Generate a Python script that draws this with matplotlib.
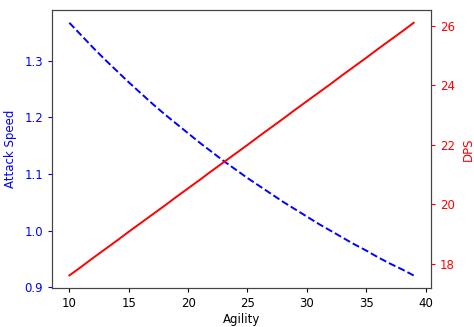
import matplotlib
matplotlib.use("Agg")
import matplotlib.pyplot as plt

# agility levels and the resulting stats
agility = list(range(10, 40))
attack_speed = [1.367, 1.345, 1.323, 1.302, 1.282, 1.262, 1.243, 1.224, 1.206, 1.189,
                1.172, 1.155, 1.139, 1.123, 1.108, 1.093, 1.079, 1.065, 1.051, 1.038,
                1.025, 1.012, 1.000, 0.988, 0.976, 0.965, 0.953, 0.942, 0.932, 0.921]
dps = [17.60, 17.89, 18.19, 18.48, 18.77, 19.07, 19.36, 19.65, 19.94, 20.24,
       20.53, 20.82, 21.12, 21.41, 21.70, 21.99, 22.29, 22.58, 22.87, 23.17,
       23.46, 23.75, 24.04, 24.34, 24.63, 24.92, 25.22, 25.51, 25.80, 26.10]

plt.rcParams['font.size'] = 8.5
plt.rcParams['xtick.major.size'] = 3
plt.rcParams['ytick.major.size'] = 3

fig, ax1 = plt.subplots(figsize=(4.74, 3.27), dpi=100)
fig.subplots_adjust(left=0.11, right=0.909, bottom=0.119, top=0.969)

ax1.plot(agility, attack_speed, 'b--', linewidth=1.4)
ax1.set_xlabel('Agility', labelpad=2)
ax1.set_ylabel('Attack Speed', color='b', labelpad=5)
ax1.tick_params(axis='y', labelcolor='b', color='b')

ax2 = ax1.twinx()
ax2.plot(agility, dps, 'r-', linewidth=1.4)
ax2.set_ylabel('DPS', color='r', labelpad=5)
ax2.tick_params(axis='y', labelcolor='r', color='r')

for ax in (ax1, ax2):
    for s in ax.spines.values():
        s.set_color('#444444')

plt.savefig('out.png')
